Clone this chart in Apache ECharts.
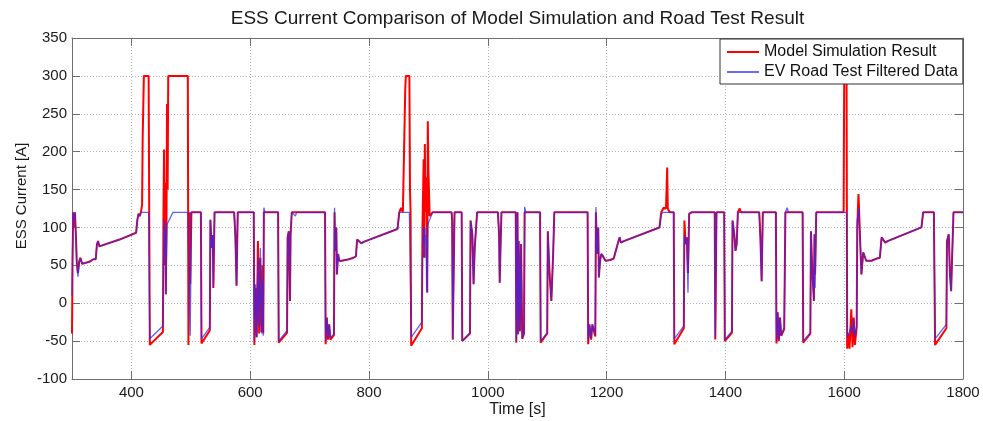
<!DOCTYPE html>
<html>
<head>
<meta charset="utf-8">
<script src="https://cdn.jsdelivr.net/npm/echarts@6/dist/echarts.min.js"></script>
<style>
html,body{margin:0;padding:0;background:#fff;}
#chart{width:983px;height:421px;}
</style>
</head>
<body>
<div id="chart"></div>
<script>
// Time [s]
const timeS = [
300,301,302,304,305,307,308,310,312,314,317,322,330,336,340,342,344,346,348,380,
408,410,412,414,416,418,419,421,429,430,431,453,454,455,456,457,458,459,460,461,
462,470,495,496,497,498,499,501,517,518,532,533,535,537,538,540,573,575,577,579,
606,607,609,611,613,615,617,619,621,622,623,625,647,648,662,663,665,666,667,668,
670,676,678,726,727,729,731,733,735,741,742,743,745,746,748,750,754,766,774,778,
780,783,787,791,848,851,854,857,859,861,862,868,869,870,871,889,890,892,893,894,
895,896,897,898,899,900,902,907,939,940,941,943,944,956,957,970,971,974,976,978,
982,1017,1019,1020,1022,1023,1047,1048,1050,1051,1052,1054,1056,1058,1061,1062,1064,1088,1089,1100,
1101,1104,1107,1110,1112,1168,1169,1171,1174,1176,1181,1182,1184,1186,1187,1189,1191,1194,1198,1206,
1212,1215,1220,1222,1224,1229,1289,1292,1296,1300,1302,1303,1306,1313,1314,1330,1331,1333,1335,1337,
1339,1343,1382,1383,1385,1398,1399,1411,1412,1415,1417,1419,1421,1424,1426,1457,1459,1461,1463,1485,
1486,1488,1490,1492,1494,1499,1501,1504,1506,1530,1531,1543,1544,1546,1549,1550,1551,1553,1599,1600,
1604,1605,1607,1609,1612,1614,1616,1618,1621,1622,1624,1625,1626,1629,1632,1637,1646,1655,1660,1663,
1669,1673,1730,1733,1751,1753,1772,1773,1776,1778,1780,1782,1784,1800
];
// Model Simulation Result [A]
const simCurrent = [
-40,60,120,100,120,80,55,40,55,60,52,53,55,58,58,78,82,75,73,84,
93,110,118,115,120,130,220,300,300,120,-55,-38,120,203,50,159,12,100,263,150,
300,300,300,-55,-55,120,25,120,120,-53,-36,110,73,90,20,120,120,90,23,120,
120,-55,20,-45,82,-40,60,-38,50,-40,120,120,120,-52,-39,87,95,47,3,91,
120,120,120,120,-54,-19,-48,-28,-48,-42,120,69,100,38,65,56,56,58,60,62,
84,86,79,81,98,120,126,120,200,282,300,300,150,120,-56,-33,100,190,60,210,
120,166,157,14,240,179,115,120,120,109,-48,-48,120,120,-50,-40,109,91,25,73,
120,120,91,27,91,120,120,-52,120,-41,82,-37,78,-47,-40,120,120,120,-52,-40,
95,38,3,65,120,120,-54,-28,-48,-28,-44,120,65,100,34,56,65,62,56,57,
59,61,82,87,80,82,100,120,126,125,179,125,120,120,-54,-33,109,78,87,40,
118,120,120,-48,120,120,-50,-39,109,91,69,78,120,125,120,120,84,29,120,120,
-53,-12,-50,-19,-43,-34,120,120,120,120,-52,-40,95,47,3,91,38,120,120,300,
300,-60,-40,-60,-8,-58,-19,-55,-32,100,144,126,100,38,67,56,56,59,60,87,
80,82,100,120,120,-55,-33,82,91,38,16,69,120,120
];
// EV Road Test Filtered Data [A]
const roadCurrent = [
10,80,120,110,120,75,50,35,52,60,52,53,55,58,58,78,82,75,73,84,
93,110,118,115,120,120,120,120,120,120,-47,-30,40,110,60,100,12,60,104,104,
106,120,120,120,120,120,-43,120,120,-47,-32,110,73,90,20,120,120,85,23,120,
120,-50,25,-45,60,-30,73,-40,30,-43,126,120,120,-50,-36,87,95,47,3,91,
120,115,120,120,-50,-19,-45,-28,-46,-40,126,69,100,38,65,56,56,58,60,62,
84,86,79,81,98,120,120,120,120,120,120,120,120,120,-45,-25,60,102,80,100,
60,90,20,14,100,106,110,120,120,109,-48,-48,120,120,-50,-39,109,91,25,73,
120,120,91,27,91,120,120,-50,120,-41,82,-37,78,-47,-40,127,120,120,-50,-39,
95,38,3,65,120,120,-50,-28,-46,-28,-42,127,65,100,34,56,65,62,56,57,
59,61,82,87,80,82,100,118,120,120,120,120,120,120,-47,-30,90,78,87,14,
118,120,120,-45,120,120,-48,-37,109,91,69,78,120,120,120,120,84,29,120,120,
-50,-12,-48,-19,-43,-32,120,126,120,120,-50,-39,95,47,3,91,20,120,120,120,
120,-45,-42,-40,-30,-40,-20,-45,-30,110,120,126,100,38,67,56,56,59,60,87,
80,82,100,120,120,-47,-28,82,91,38,16,69,120,120
];
const seriesNames = ['Model Simulation Result', 'EV Road Test Filtered Data'];
const titleText = 'ESS Current Comparison of Model Simulation and Road Test Result';
const xName = 'Time [s]';
const yName = 'ESS Current [A]';
const xMin = 300, xMax = 1800;
const yMin = -100, yMax = 350, yStep = 50;

const simData = timeS.map((t, i) => [t, simCurrent[i]]);
const roadData = timeS.map((t, i) => [t, roadCurrent[i]]);

const FONT = 'Liberation Sans, Arial, Helvetica, sans-serif';
const AXIS_COLOR = '#6e6e6e';
const TXT = '#1a1a1a';
const chart = echarts.init(document.getElementById('chart'), null, {renderer: 'canvas'});
chart.setOption({
  animation: false,
  backgroundColor: '#ffffff',
  textStyle: {fontFamily: FONT},
  graphic: [{
    type: 'text',
    x: 517.5, y: 18.5,
    style: {
      text: titleText,
      font: '19px ' + FONT,
      fill: TXT,
      textAlign: 'center',
      textVerticalAlign: 'middle'
    }
  }, {
    type: 'text',
    x: 22, y: 196,
    rotation: Math.PI / 2,
    style: {
      text: yName,
      font: '15px ' + FONT,
      fill: TXT,
      textAlign: 'center',
      textVerticalAlign: 'middle'
    }
  }, {
    type: 'text',
    x: 517.5, y: 410,
    style: {
      text: xName,
      font: '16px ' + FONT,
      fill: TXT,
      textAlign: 'center',
      textVerticalAlign: 'middle'
    }
  }],
  grid: {left: 72, right: 20, top: 38, bottom: 42, containLabel: false, outerBoundsMode: 'none'},
  legend: {
    left: 720, top: 39,
    orient: 'vertical',
    padding: [5, 5, 4, 7],
    itemGap: 4,
    itemWidth: 32, itemHeight: 2,
    icon: 'rect',
    backgroundColor: '#ffffff',
    borderColor: '#333333',
    borderWidth: 1,
    borderRadius: 0,
    textStyle: {fontSize: 16, color: '#111', fontFamily: FONT},
    data: [
      {name: seriesNames[0], itemStyle: {color: '#ff0000'}},
      {name: seriesNames[1], itemStyle: {color: '#6a6aff'}}
    ]
  },
  xAxis: [{
    type: 'value', min: xMin, max: xMax, splitNumber: 7,
    position: 'bottom',
    axisLine: {show: true, onZero: false, lineStyle: {color: AXIS_COLOR, width: 1}},
    axisTick: {show: true, inside: true, length: 8, lineStyle: {color: AXIS_COLOR}},
    axisLabel: {showMinLabel: false, fontSize: 15, color: TXT, margin: 6, fontFamily: FONT,
      formatter: v => String(v)},
    splitLine: {show: true, lineStyle: {color: '#b0b0b0', type: [1, 2], width: 1}}
  }, {
    type: 'value', min: xMin, max: xMax, splitNumber: 7,
    position: 'top',
    axisLine: {show: true, onZero: false, lineStyle: {color: AXIS_COLOR, width: 1}},
    axisTick: {show: true, inside: true, length: 8, lineStyle: {color: AXIS_COLOR}},
    axisLabel: {show: false},
    splitLine: {show: false}
  }],
  yAxis: [{
    type: 'value', min: yMin, max: yMax, interval: yStep,
    position: 'left',
    axisLine: {show: true, onZero: false, lineStyle: {color: AXIS_COLOR, width: 1}},
    axisTick: {show: true, inside: true, length: 8, lineStyle: {color: AXIS_COLOR}},
    axisLabel: {fontSize: 15, color: TXT, margin: 5, fontFamily: FONT},
    splitLine: {show: true, lineStyle: {color: '#b0b0b0', type: [1, 2], width: 1}}
  }, {
    type: 'value', min: yMin, max: yMax, interval: yStep,
    position: 'right',
    axisLine: {show: true, onZero: false, lineStyle: {color: AXIS_COLOR, width: 1}},
    axisTick: {show: true, inside: true, length: 8, lineStyle: {color: AXIS_COLOR}},
    axisLabel: {show: false},
    splitLine: {show: false}
  }],
  series: [{
    name: seriesNames[0],
    type: 'line',
    xAxisIndex: 0, yAxisIndex: 0,
    data: simData,
    showSymbol: false,
    symbol: 'none',
    color: '#ff0000',
    lineStyle: {color: '#ff0000', width: 2},
    z: 2
  }, {
    name: seriesNames[1],
    type: 'line',
    xAxisIndex: 0, yAxisIndex: 0,
    data: roadData,
    showSymbol: false,
    symbol: 'none',
    color: '#2a2aff',
    lineStyle: {color: '#2a2aff', width: 1.3, opacity: 0.75},
    z: 3
  }]
});
</script>
</body>
</html>
